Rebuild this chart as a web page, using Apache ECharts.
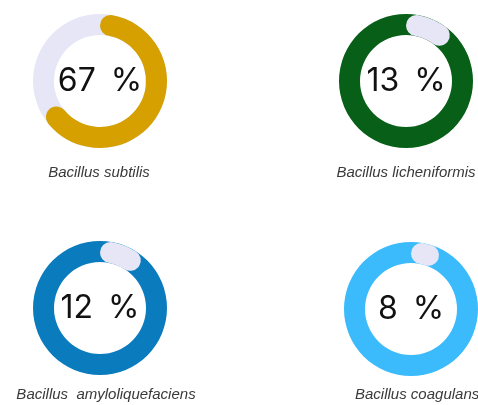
<!DOCTYPE html>
<html>
<head>
<meta charset="utf-8">
<script src="https://cdn.jsdelivr.net/npm/echarts@6/dist/echarts.min.js"></script>
<style>
html,body{margin:0;padding:0;background:#fff;}
#chart{width:478px;height:405px;}
</style>
</head>
<body>
<div id="chart"></div>
<script>
// Data
const names = ['Bacillus subtilis', 'Bacillus licheniformis', 'Bacillus  amyloliquefaciens', 'Bacillus coagulans'];
const values = [67, 13, 12, 8];
const arcColors = ['#D5A000', '#E6E6F6', '#E6E6F6', '#E6E6F6'];
const trackColors = ['#E6E6F6', '#075F18', '#0A7CBE', '#3BBAFC'];

// Layout
const centers = [[100, 81], [406, 81], [100, 308], [411, 309]];
const radius = [46, 67];
const nameLayout = [
  {x: 99, y: 173, align: 'center'},
  {x: 406, y: 173, align: 'center'},
  {x: 106, y: 395, align: 'center'},
  {x: 355, y: 395, align: 'left'}
];

const numStyle = {fontFamily: 'Inter', fontSize: 32, color: '#111'};
const series = [];
values.forEach((v, i) => {
  series.push({
    type: 'pie', center: centers[i], radius: radius, silent: true,
    label: {show: false}, labelLine: {show: false},
    data: [{value: 100, itemStyle: {color: trackColors[i]}}]
  });
  series.push({
    type: 'pie', center: centers[i], radius: radius, silent: true,
    startAngle: 90, clockwise: true,
    itemStyle: {borderRadius: 20},
    labelLine: {show: false},
    data: [
      {value: v, itemStyle: {color: arcColors[i]},
       label: {show: true, position: 'center',
               formatter: p => '{n|' + p.value + '}{p|%}',
               rich: {n: numStyle, p: Object.assign({padding: [0, 0, 0, 15]}, numStyle)}}},
      {value: 100 - v, itemStyle: {color: 'rgba(0,0,0,0)', borderRadius: 0}, label: {show: false}}
    ]
  });
});

const graphic = names.map((n, i) => ({
  type: 'text', x: nameLayout[i].x, y: nameLayout[i].y,
  style: {text: n, fill: '#3a3a3a', font: 'italic 15px "Liberation Sans", Arial, sans-serif',
          textAlign: nameLayout[i].align, textVerticalAlign: 'middle'}
}));

const chart = echarts.init(document.getElementById('chart'));
chart.setOption({animation: false, series: series, graphic: graphic});
</script>
</body>
</html>
